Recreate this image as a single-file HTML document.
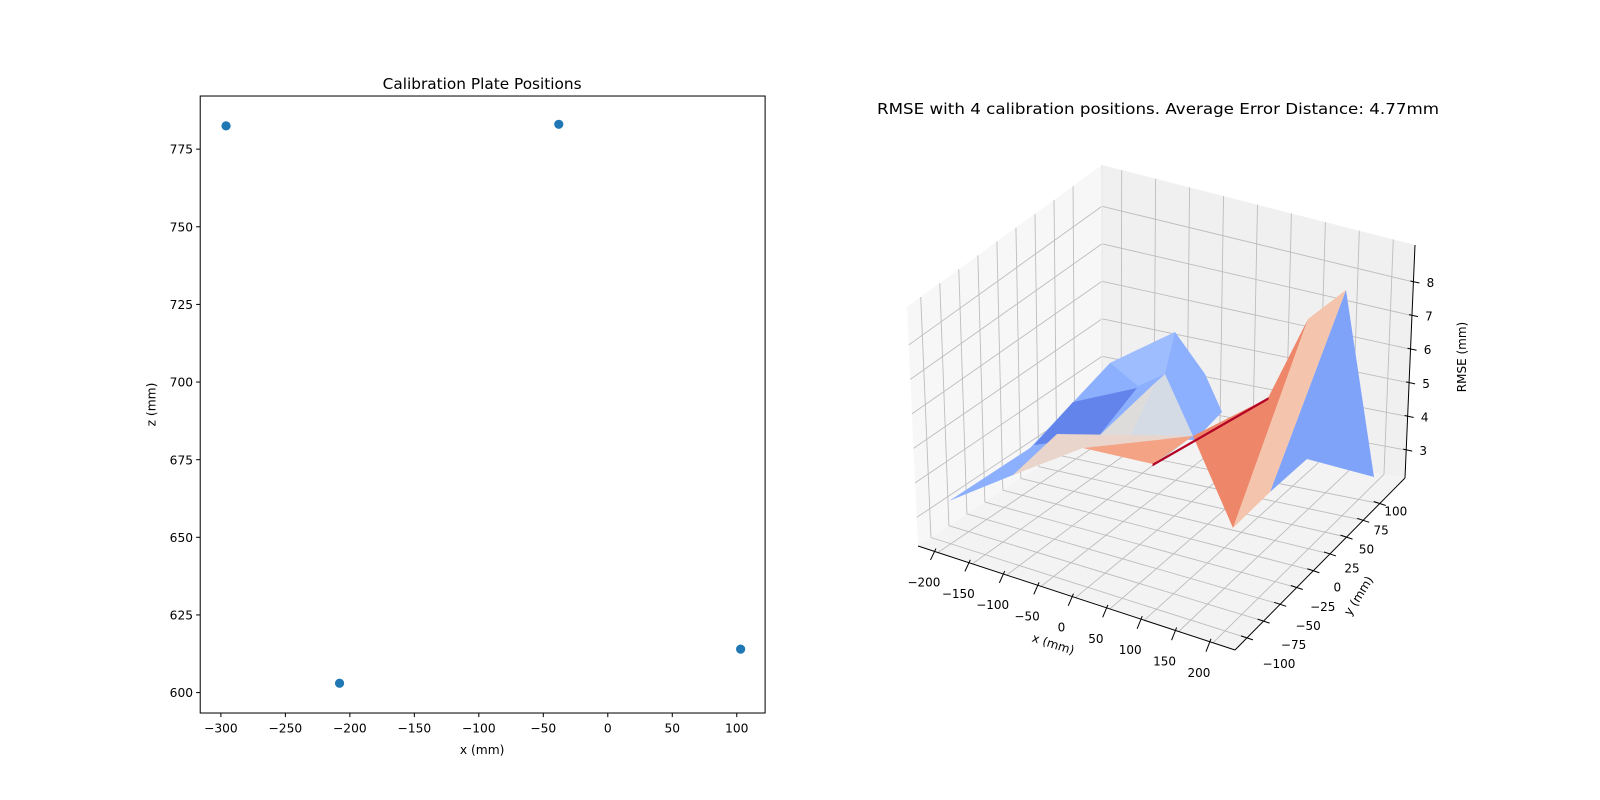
<!DOCTYPE html>
<html><head><meta charset="utf-8"><style>
html,body{margin:0;padding:0;background:#fff}
svg{display:block;font-family:"DejaVu Sans","Liberation Sans",sans-serif}
</style></head><body>
<svg id="fig" width="1600" height="800" viewBox="0 0 1600 800">
<rect width="1600" height="800" fill="#fff"/>
<g id="left" transform="scale(1.0215)"></g>
<g id="right"></g>
</svg>
<script>
// ---- left scatter data ----
const plateX = [-296, -208, -38, 103];
const plateZ = [782.5, 603, 783, 614];
const xTicksL = [-300, -250, -200, -150, -100, -50, 0, 50, 100];
const zTicksL = [600, 625, 650, 675, 700, 725, 750, 775];
// ---- 3D axis data ----
const xTicks3 = [-200, -150, -100, -50, 0, 50, 100, 150, 200];
const yTicks3 = [-100, -75, -50, -25, 0, 25, 50, 75, 100];
const zTicks3 = [3, 4, 5, 6, 7, 8];

const NS = 'http://www.w3.org/2000/svg';
function mk(parent, tag, attrs, text) {
  const e = document.createElementNS(NS, tag);
  for (const k in attrs) e.setAttribute(k, attrs[k]);
  if (text !== undefined) e.textContent = text;
  parent.appendChild(e);
  return e;
}
// ================= LEFT =================
const L = document.getElementById('left');
const box = {l: 196, r: 749, t: 94, b: 698};
const xs = v => 595 + v * 1.2625;
const ys = v => 678 - (v - 600) * 3.04;
let t = mk(L, 'text', {x: 472, y: 87, 'font-size': 15, 'text-anchor': 'middle'}, 'Calibration Plate Positions');


xTicksL.forEach(v => {
  const x = xs(v);
  let l = mk(L, 'line', {x1: x, x2: x, y1: box.b, y2: box.b + 4, stroke: '#000'});
  
  
  let tx = mk(L, 'text', {x: x, y: box.b + 19, 'font-size': 12, 'text-anchor': 'middle'}, (v < 0 ? '\u2212' + (-v) : v));
  
  
});
zTicksL.forEach(v => {
  const y = ys(v);
  let l = mk(L, 'line', {x1: box.l - 4, x2: box.l, y1: y, y2: y, stroke: '#000'});
  
  
  let tx = mk(L, 'text', {x: box.l - 7, y: y + 4.5, 'font-size': 12, 'text-anchor': 'end'}, v);
  
  
});
t = mk(L, 'text', {x: 472, y: 738, 'font-size': 12, 'text-anchor': 'middle'}, 'x (mm)');


t = mk(L, 'text', {x: 152, y: 396, 'font-size': 12, 'text-anchor': 'middle', transform: 'rotate(-90 152 396)'}, 'z (mm)');


plateX.forEach((v, i) => {
  let c = mk(L, 'circle', {cx: xs(v), cy: ys(plateZ[i]), r: 4.5, fill: '#1f77b4'});
  
  
});
let fr = mk(L, 'rect', {x: box.l, y: box.t, width: box.r - box.l, height: box.b - box.t, fill: 'none', stroke: '#000', 'stroke-width': 1});



// ================= RIGHT (3D) =================
const R = document.getElementById('right');
const xmin = -229, xmax = 232, ymin = -118, ymax = 138, zmin = 2.17, zmax = 9.1;
const A = [918, 546], B = [1235, 650], C = [1405, 478], D = [1102, 425];
const hA = 239, hB = 238, hC = 233, hD = 260;
const dA = -11, dB = -2, dC = 10, dD = 0;
function bil(a, b, c, d, u, v) { return a * (1 - u) * (1 - v) + b * u * (1 - v) + c * u * v + d * (1 - u) * v; }
function P(x, y, z) {
  const u = (x - xmin) / (xmax - xmin), v = (y - ymin) / (ymax - ymin), w = (z - zmin) / (zmax - zmin);
  const fx = bil(A[0], B[0], C[0], D[0], u, v), fy = bil(A[1], B[1], C[1], D[1], u, v);
  const h = bil(hA, hB, hC, hD, u, v), dx = bil(dA, dB, dC, dD, u, v);
  return [fx + dx * w, fy - h * w];
}
function poly(parent, pts, fill, name, stroke) {
  const e = mk(parent, 'polygon', {points: pts.map(p => p[0].toFixed(1) + ',' + p[1].toFixed(1)).join(' '), fill: fill, stroke: stroke || 'none'});
  
  
  return e;
}
function line(parent, p, q, stroke, sw, name) {
  const e = mk(parent, 'line', {x1: p[0], y1: p[1], x2: q[0], y2: q[1], stroke: stroke, 'stroke-width': sw});
  
  
  return e;
}
// panes
poly(R, [P(xmin, ymin, zmin), P(xmin, ymax, zmin), P(xmin, ymax, zmax), P(xmin, ymin, zmax)], '#f7f7f7', 'left-pane');
poly(R, [P(xmin, ymax, zmin), P(xmax, ymax, zmin), P(xmax, ymax, zmax), P(xmin, ymax, zmax)], '#f0f0f0', 'back-pane');
poly(R, [P(xmin, ymin, zmin), P(xmax, ymin, zmin), P(xmax, ymax, zmin), P(xmin, ymax, zmin)], '#f3f3f3', 'floor-pane');
const gc = '#bdbdbd';
xTicks3.forEach(v => {
  line(R, P(v, ymin, zmin), P(v, ymax, zmin), gc, 0.9, 'x-gridline');
  line(R, P(v, ymax, zmin), P(v, ymax, zmax), gc, 0.9, 'x-gridline');
});
yTicks3.forEach(v => {
  line(R, P(xmin, v, zmin), P(xmax, v, zmin), gc, 0.9, 'y-gridline');
  line(R, P(xmin, v, zmin), P(xmin, v, zmax), gc, 0.9, 'y-gridline');
});
zTicks3.forEach(v => {
  line(R, P(xmin, ymin, v), P(xmin, ymax, v), gc, 0.9, 'z-gridline');
  line(R, P(xmin, ymax, v), P(xmax, ymax, v), gc, 0.9, 'z-gridline');
});
line(R, P(xmin, ymax, zmin), P(xmin, ymax, zmax), '#e6e6e6', 1, 'pane-edge');
// surface facets (screen-space)
const S = document.createElementNS(NS, 'g');


R.appendChild(S);
poly(S, [[949,501],[1030,448],[1110,363],[1175,332],[1205,374],[1222,412],[1195,440],[1100,437],[1013,475]], '#8db0fe', 'surface-facet');
poly(S, [[1110,363],[1175,332],[1165,374],[1138,386]], '#9dbdff', 'surface-facet');
poly(S, [[1034,445],[1073,402],[1137,388],[1098,437]], '#6384eb', 'surface-facet');
poly(S, [[1098,437],[1155,383],[1165,374],[1193,436]], '#d5dbe5', 'surface-facet');
poly(S, [[1098,437],[1155,383],[1130,436]], '#dedcdb', 'surface-facet');
poly(S, [[1013,475],[1057,434],[1193,436],[1083,448]], '#e9d5cb', 'surface-facet');
poly(S, [[1083,448],[1193,436],[1153,464]], '#f5a385', 'surface-facet');
poly(S, [[1346,290],[1374,477],[1307,459],[1270,492]], '#80a3fa', 'surface-facet');
poly(S, [[1193,436],[1268,398],[1308,319],[1233,528]], '#ee8669', 'surface-facet');
poly(S, [[1308,319],[1346,290],[1270,492],[1233,528]], '#f4c4ac', 'surface-facet');
poly(S, [[1153,464],[1268,398],[1268,399.5],[1153,465.5]], '#b40426', 'surface-facet', '#b40426');
// axes lines
line(R, P(xmin, ymin, zmin), P(xmax, ymin, zmin), '#000', 1, 'x-axis-line');
line(R, P(xmax, ymin, zmin), P(xmax, ymax, zmin), '#000', 1, 'y-axis-line');
line(R, P(xmax, ymax, zmin), P(xmax, ymax, zmax), '#000', 1, 'z-axis-line');
xTicks3.forEach(v => {
  const p = P(v, ymin, zmin), q = P(v, ymin - 9, zmin);
  line(R, [p[0] - 2, p[1] - 4], [q[0] - 1, q[1] + 3], '#000', 1, 'x-tick');
  let tx = mk(R, 'text', {x: p[0] - 14, y: p[1] + 34, 'font-size': 12, 'text-anchor': 'middle'}, v < 0 ? '\u2212' + (-v) : v);
  
  
});
yTicks3.forEach(v => {
  const p = P(xmax, v, zmin);
  const f = (v - yTicks3[0]) / (yTicks3[yTicks3.length - 1] - yTicks3[0]);
  line(R, [p[0] - 6, p[1] - 2], [p[0] + 6, p[1] + 2], '#000', 1, 'y-tick');
  let tx = mk(R, 'text', {x: p[0] + 32 - 16 * f, y: p[1] + 30 - 18 * f, 'font-size': 12, 'text-anchor': 'middle'}, v < 0 ? '\u2212' + (-v) : v);
  
  
});
zTicks3.forEach(v => {
  const p = P(xmax, ymax, v);
  line(R, [p[0] - 3, p[1] - 1], [p[0] + 6, p[1] + 1], '#000', 1, 'z-tick');
  let tx = mk(R, 'text', {x: p[0] + 17, y: p[1] + 5, 'font-size': 12, 'text-anchor': 'middle'}, v);
  
  
});
t = mk(R, 'text', {x: 1052, y: 648, 'font-size': 12, 'text-anchor': 'middle', transform: 'rotate(18 1052 648)'}, 'x (mm)');


t = mk(R, 'text', {x: 1362, y: 598, 'font-size': 12, 'text-anchor': 'middle', transform: 'rotate(-58 1362 598)'}, 'y (mm)');


t = mk(R, 'text', {x: 1466, y: 357, 'font-size': 12, 'text-anchor': 'middle', transform: 'rotate(-90 1466 357)'}, 'RMSE (mm)');


t = mk(R, 'text', {x: 1158, y: 114, 'font-size': 15, 'text-anchor': 'middle', textLength: 562, lengthAdjust: 'spacingAndGlyphs'}, 'RMSE with 4 calibration positions. Average Error Distance: 4.77mm');


</script>
</body></html>
